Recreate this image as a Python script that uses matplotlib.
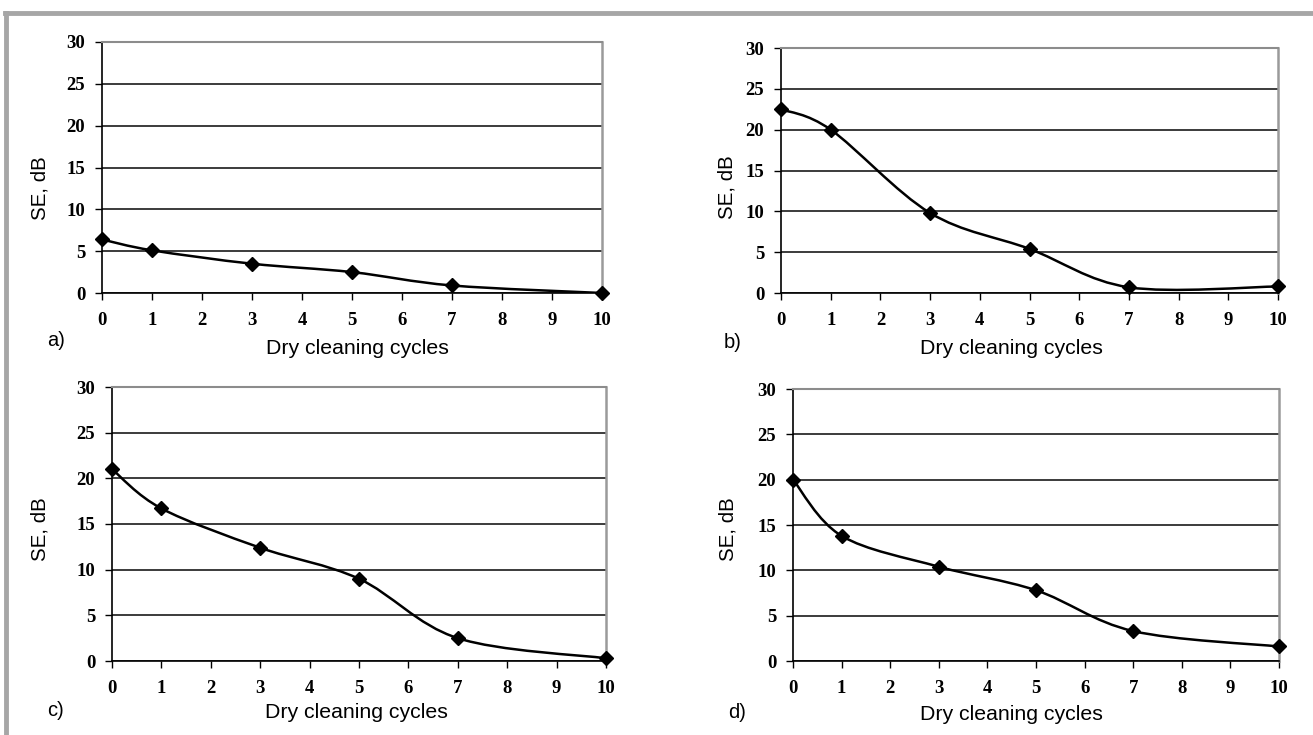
import matplotlib
matplotlib.use("Agg")
import matplotlib.pyplot as plt
from matplotlib.path import Path
from matplotlib.patches import PathPatch
from matplotlib.lines import Line2D
import numpy as np

# dry cleaning cycles where SE was measured
cycles = [0, 1, 3, 5, 7, 10]

# shielding effectiveness, dB
se_a = [6.4, 5.1, 3.5, 2.5, 0.9, 0.0]
se_b = [22.5, 20.0, 9.8, 5.4, 0.7, 0.8]
se_c = [21.0, 16.7, 12.4, 9.0, 2.5, 0.3]
se_d = [20.0, 13.8, 10.4, 7.8, 3.3, 1.6]

panel_labels = ["a)", "b)", "c)", "d)"]
xticks = list(range(0, 11))
yticks = [0, 5, 10, 15, 20, 25, 30]

W, H = 1313, 735

def fig_rect(x0, x1, ytop, ybot):
    return [x0 / W, 1 - ybot / H, (x1 - x0) / W, (ybot - ytop) / H]

def smooth_path(x, y):
    # excel style smoothed line: catmull-rom converted to cubic bezier
    x = np.asarray(x, float)
    y = np.asarray(y, float)
    pts = np.column_stack([x, y])
    n = len(pts)
    verts = [pts[0]]
    codes = [Path.MOVETO]
    for i in range(n - 1):
        p0 = pts[i - 1] if i > 0 else pts[i]
        p1 = pts[i]
        p2 = pts[i + 1]
        p3 = pts[i + 2] if i + 2 < n else pts[i + 1]
        c1 = p1 + (p2 - p0) / 6.0
        c2 = p2 - (p3 - p1) / 6.0
        verts += [c1, c2, p2]
        codes += [Path.CURVE4] * 3
    return Path(verts, codes)

fig = plt.figure(figsize=(W / 100, H / 100), dpi=100)

# gray frame along top and left
fig.add_artist(Line2D([5 / W, 1], [1 - 13 / H, 1 - 13 / H], color="#a6a6a6", lw=3.5))
fig.add_artist(Line2D([6 / W, 6 / W], [1 - 13 / H, 0], color="#a6a6a6", lw=3.5))

rects = [fig_rect(102, 602, 42, 293),
         fig_rect(781, 1278, 48, 293),
         fig_rect(112, 606, 387, 661),
         fig_rect(793, 1279, 389, 661)]
series = [se_a, se_b, se_c, se_d]
# label positions in pixels: panel letter, x label, y label
letter_pos = [(56, 340), (733, 342), (56, 711), (737, 712)]
xlab_pos = [(357, 349), (1011, 349), (356, 713), (1011, 714)]
ylab_pos = [(40, 188), (727, 187), (40, 529), (728, 529)]

for k in range(4):
    ax = fig.add_axes(rects[k])
    ax.set_xlim(0, 10)
    ax.set_ylim(0, 30)
    ax.set_xticks(xticks)
    ax.set_yticks(yticks)
    ax.tick_params(direction="out", length=5, width=1, color="black",
                   labelsize=13.5)
    ax.tick_params(axis="x", pad=9)
    ax.tick_params(axis="y", pad=7)
    for lab in ax.get_xticklabels() + ax.get_yticklabels():
        lab.set_fontfamily("Liberation Serif")
        lab.set_fontweight("bold")
    ax.yaxis.grid(True, color="#1a1a1a", lw=1.2)
    ax.set_axisbelow(True)
    ax.spines["left"].set_color("black")
    ax.spines["bottom"].set_color("black")
    ax.spines["left"].set_linewidth(1.2)
    ax.spines["bottom"].set_linewidth(1.2)
    ax.spines["top"].set_color("#8c8c8c")
    ax.spines["top"].set_linewidth(1.5)
    ax.spines["right"].set_color("#9a9a9a")
    ax.spines["right"].set_linewidth(1.8)

    ax.add_patch(PathPatch(smooth_path(cycles, series[k]), facecolor="none",
                           edgecolor="black", lw=1.8, zorder=3))
    ax.plot(cycles, series[k], linestyle="none", marker="D", markersize=7.5,
            color="black", zorder=4, clip_on=False)

    lx, ly = letter_pos[k]
    fig.text(lx / W, 1 - ly / H, panel_labels[k], ha="center", va="center",
             fontsize=14.5, family="Liberation Sans")
    xx, xy = xlab_pos[k]
    fig.text(xx / W, 1 - xy / H, "Dry cleaning cycles", ha="center", va="center",
             fontsize=15.3, family="Liberation Sans")
    yx, yy = ylab_pos[k]
    fig.text(yx / W, 1 - yy / H, "SE, dB", ha="center", va="center",
             rotation=90, fontsize=14.8, family="Liberation Sans")

fig.savefig("out.png", dpi=100)
